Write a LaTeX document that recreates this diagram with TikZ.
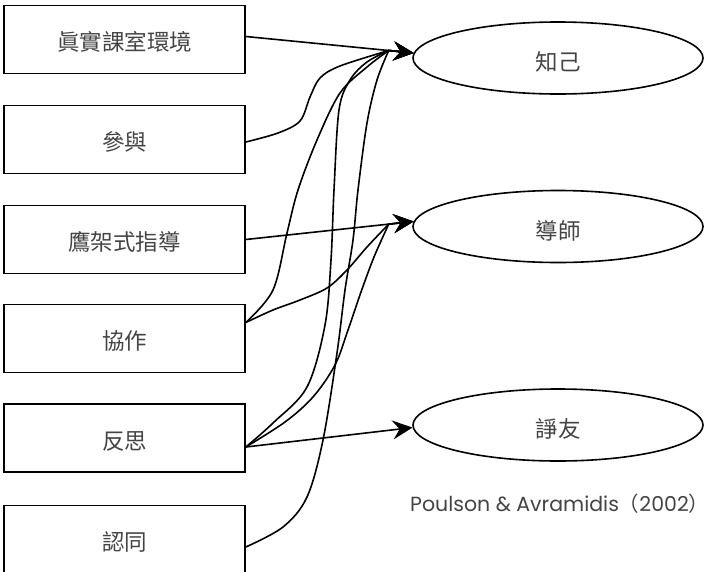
\documentclass[tikz,border=0pt]{standalone}
\usepackage{fontspec}
\newfontfamily\cjk{Noto Sans CJK TC}
\newfontfamily\lat{Poppins}
\usetikzlibrary{arrows.meta,calc,shapes.geometric}
\definecolor{txt}{RGB}{68,68,68}
\begin{document}
\begin{tikzpicture}[x=1pt,y=-1pt,
  box/.style={draw, line width=1.6pt, minimum width=241pt, minimum height=68pt, inner sep=0pt,
    text height=22pt, text depth=0pt,
    font=\cjk\fontsize{22.5}{26}\selectfont, text=txt},
  oval/.style={ellipse, draw, line width=1.6pt, minimum width=290pt, minimum height=72pt, inner sep=0pt,
    text height=25pt, text depth=0pt,
    font=\cjk\fontsize{22.5}{26}\selectfont, text=txt},
  link/.style={line width=1.6pt, -{Stealth[length=20pt,width=19pt,inset=7pt]}},
  curvy/.style={link, line join=round}]
\useasboundingbox (0,0) rectangle (715,571);
% boxes
\node[box] (b1) at (124.5,39.5) {眞實課室環境};
\node[box] (b2) at (124.5,139.5) {參與};
\node[box] (b3) at (124.5,239.5) {鷹架式指導};
\node[box] (b4) at (124.5,338.5) {協作};
\node[box] (b5) at (124.5,438) {反思};
\node[box] (b6) at (124.5,539.5) {認同};
% ellipses
\node[oval] (zj) at (558,58) {知己};
\node[oval] (ds) at (558,226.5) {導師};
\node[oval] (zy) at (558,425) {諍友};
% citation
\node[anchor=base west, inner sep=0pt, text=txt, font=\lat\fontsize{20.5}{24}\selectfont] (cite) at (410,511)
  {Poulson \& Avramidis{\cjk（}2002{\cjk）}};
% ports
\coordinate (p1) at ($(b1.east)+(0,-3)$);
\coordinate (p2) at ($(b2.east)+(0,2.5)$);
\coordinate (p3) at (b3.east);
\coordinate (p4) at ($(b4.east)+(0,-16)$);
\coordinate (p5) at ($(b5.east)+(0,9)$);
\coordinate (p6) at ($(b6.east)+(0,7.5)$);
\coordinate (k1) at ($(zj.178)!25pt!(p1)$);
\coordinate (k2) at ($(ds.178)!25pt!(p3)$);
% straight connectors
\draw[link] (p1) -- (zj.178);
\draw[link] (p3) -- (ds.178);
\draw[link] (p5) -- (zy.181);
% curved connectors
\draw[curvy] plot[smooth, tension=0.55] coordinates {(p2) (278,133) (300,121) (310,97) (320,78) (340,66) (k1)} -- (zj.178);
\draw[curvy] plot[smooth, tension=0.55] coordinates {(p4) (273,290) (287,233) (298,190) (317,140) (340,93) (367,67) (k1)} -- (zj.178);
\draw[curvy] plot[smooth, tension=0.55] coordinates {(p4) (273,310) (300,300) (327,288) (347,270) (367,247) (k2)} -- (ds.178);
\draw[curvy] plot[smooth, tension=0.55] coordinates {(p5) (273,423) (307,387) (325,325) (331,260) (334,190) (339,110) (350,80) (367,62) (k1)} -- (zj.178);
\draw[curvy] plot[smooth, tension=0.55] coordinates {(p5) (285,422) (313,397) (335,365) (348,330) (361,292) (374,257) (k2)} -- (ds.178);
\draw[curvy] plot[smooth, tension=0.55] coordinates {(p6) (283,527) (307,497) (323,440) (337,353) (345,290) (353,240) (358,190) (367,123) (377,80) (k1)} -- (zj.178);
\end{tikzpicture}
\end{document}
